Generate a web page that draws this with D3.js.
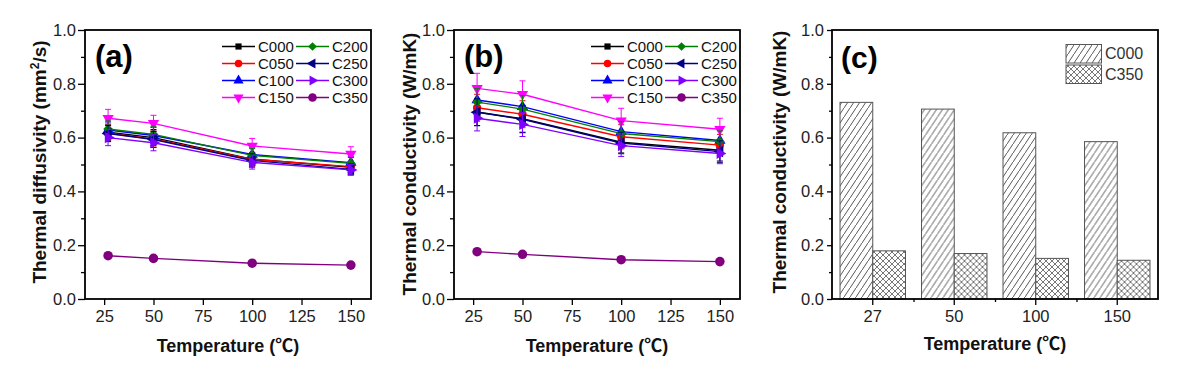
<!DOCTYPE html>
<html lang="en">
<head>
  <meta charset="UTF-8">
  <title>Thermal diffusivity and conductivity</title>
  <script src="https://d3js.org/d3.v7.min.js"></script>
  <style>
    body { margin: 0; background: #fff; }
    svg text { font-family: Arial, "Liberation Sans", "Noto Sans CJK SC", sans-serif; }
    .tick text { font-size: 16.5px; fill: #222; }
    .axis-title { font-weight: bold; fill: #111; }
    .legend text { font-size: 15px; fill: #111; }
    .cjk { font-family: "Noto Sans CJK SC", sans-serif; }
  </style>
</head>
<body>
  <svg width="1187" height="374"></svg>
  <script>
// temperatures (deg C) for the line panels
const temps = [27, 50, 100, 150];
const seriesNames = ["C000", "C050", "C100", "C150", "C200", "C250", "C300", "C350"];
const seriesColors = ["#000000", "#ff0000", "#0000ff", "#ff00ff", "#008000", "#000080", "#8000ff", "#800080"];

// panel (a): thermal diffusivity (mm2/s), one row per series
const diffusivity = [
  [0.620, 0.600, 0.520, 0.490],
  [0.616, 0.595, 0.519, 0.492],
  [0.628, 0.608, 0.537, 0.507],
  [0.672, 0.653, 0.569, 0.539],
  [0.632, 0.612, 0.534, 0.504],
  [0.615, 0.593, 0.515, 0.482],
  [0.600, 0.581, 0.508, 0.480],
  [0.161, 0.151, 0.133, 0.126]
];
const diffusivityErr = [
  [0.030, 0.030, 0.025, 0.020],
  [0.030, 0.030, 0.025, 0.020],
  [0.030, 0.030, 0.025, 0.022],
  [0.033, 0.030, 0.028, 0.027],
  [0.030, 0.030, 0.025, 0.022],
  [0.030, 0.030, 0.025, 0.020],
  [0.030, 0.030, 0.025, 0.020],
  [0.004, 0.004, 0.004, 0.004]
];

// panel (b): thermal conductivity (W/mK)
const conductivity = [
  [0.695, 0.670, 0.583, 0.553],
  [0.711, 0.687, 0.603, 0.572],
  [0.740, 0.715, 0.622, 0.589],
  [0.783, 0.761, 0.663, 0.631],
  [0.732, 0.706, 0.615, 0.585],
  [0.694, 0.668, 0.580, 0.548],
  [0.672, 0.649, 0.570, 0.541],
  [0.176, 0.166, 0.146, 0.139]
];
const conductivityErr = [
  [0.050, 0.050, 0.040, 0.040],
  [0.050, 0.050, 0.045, 0.040],
  [0.050, 0.050, 0.045, 0.040],
  [0.056, 0.050, 0.046, 0.041],
  [0.050, 0.050, 0.045, 0.040],
  [0.050, 0.050, 0.040, 0.040],
  [0.047, 0.045, 0.040, 0.038],
  [0.006, 0.006, 0.006, 0.006]
];

// panel (c): bars
const barCategories = ["27", "50", "100", "150"];
const barGroups = ["C000", "C350"];
const barC000 = [0.731, 0.706, 0.618, 0.585];
const barC350 = [0.179, 0.169, 0.151, 0.144];

const xTicks = [25, 50, 75, 100, 125, 150];
const yTicks = [0, 0.2, 0.4, 0.6, 0.8, 1.0];
const yMinorTicks = [0.1, 0.3, 0.5, 0.7, 0.9];

const svg = d3.select("svg");
const plotTop = 30, plotBottom = 299;

// marker shapes, in series order
function markerPath(i, size) {
  const sq = d3.symbol().type(d3.symbolSquare).size(size * 0.85)();
  const ci = d3.symbol().type(d3.symbolCircle).size(size)();
  const tr = d3.symbol().type(d3.symbolTriangle).size(size)();
  return [sq, ci, tr, tr, sq, tr, tr, d3.symbol().type(d3.symbolCircle).size(size * 1.3)()][i];
}
const markerRot = [0, 0, 0, 180, 45, -90, 90, 0];

function xTitle(g, cx, y) {
  const t = g.append("text").attr("class", "axis-title")
    .attr("x", cx).attr("y", y)
    .attr("text-anchor", "middle").attr("font-size", 18);
  t.append("tspan").text("Temperature (");
  t.append("tspan").attr("class", "cjk").text("℃");
  t.append("tspan").text(")");
}

function linePanel(left, right, values, errs, label, titleX, titleCenterY, titleParts) {
  const x = d3.scaleLinear().domain([15.3, 160.2]).range([left, right]);
  const y = d3.scaleLinear().domain([0, 1]).range([plotBottom, plotTop]);
  const g = svg.append("g");

  g.append("g")
    .attr("transform", `translate(0,${plotBottom})`)
    .call(d3.axisBottom(x).tickValues(xTicks).tickSize(6).tickPadding(5).tickSizeOuter(0))
    .call(a => a.select(".domain").remove());
  g.append("g")
    .attr("transform", `translate(${left},0)`)
    .call(d3.axisLeft(y).tickValues(yTicks).tickFormat(d3.format(".1f")).tickSize(7).tickPadding(2).tickSizeOuter(0))
    .call(a => a.select(".domain").remove());
  g.append("g")
    .attr("transform", `translate(${left},0)`)
    .call(d3.axisLeft(y).tickValues(yMinorTicks).tickFormat("").tickSize(4).tickSizeOuter(0))
    .call(a => a.select(".domain").remove());
  g.selectAll(".tick line").attr("stroke", "#000").attr("stroke-width", 1.3);

  g.append("rect")
    .attr("x", left).attr("y", plotTop)
    .attr("width", right - left).attr("height", plotBottom - plotTop)
    .attr("fill", "none").attr("stroke", "#000").attr("stroke-width", 1.8);

  const line = d3.line().x((d, j) => x(temps[j])).y(d => y(d));

  values.forEach((vals, i) => {
    const col = seriesColors[i];
    const s = g.append("g");
    s.append("path").attr("d", line(vals))
      .attr("fill", "none").attr("stroke", col).attr("stroke-width", 1.4);
    vals.forEach((v, j) => {
      const e = errs[i][j], cx = x(temps[j]);
      s.append("path")
        .attr("d", `M${cx},${y(v - e)}V${y(v + e)}M${cx - 3},${y(v - e)}h6M${cx - 3},${y(v + e)}h6`)
        .attr("stroke", col).attr("stroke-width", 1).attr("fill", "none");
    });
    s.selectAll(".pt").data(vals).enter().append("path")
      .attr("d", markerPath(i, 55))
      .attr("fill", col)
      .attr("transform", (d, j) => `translate(${x(temps[j])},${y(d)}) rotate(${markerRot[i]})`);
  });

  // legend
  const lg = g.append("g").attr("class", "legend");
  seriesNames.forEach((name, i) => {
    const x0 = left + 137 + Math.floor(i / 4) * 74;
    const y0 = 46.5 + (i % 4) * 17;
    lg.append("line").attr("x1", x0).attr("x2", x0 + 33).attr("y1", y0).attr("y2", y0)
      .attr("stroke", seriesColors[i]).attr("stroke-width", 1.4);
    lg.append("path").attr("d", markerPath(i, 45)).attr("fill", seriesColors[i])
      .attr("transform", `translate(${x0 + 16.5},${y0}) rotate(${markerRot[i]})`);
    lg.append("text").attr("x", x0 + 36).attr("y", y0).attr("dy", "0.36em").text(name);
  });

  g.append("text").attr("x", left + 10).attr("y", 67)
    .attr("font-size", 31).attr("font-weight", "bold").text(label);

  const yt = g.append("text").attr("class", "axis-title")
    .attr("transform", `translate(${titleX},${titleCenterY}) rotate(-90)`)
    .attr("text-anchor", "middle").attr("font-size", 19);
  titleParts.forEach(p => {
    const t = yt.append("tspan").text(p.t);
    if (p.sup) t.attr("font-size", 12).attr("dy", -7);
    if (p.after) t.attr("dy", 7);
  });

  xTitle(g, (left + right) / 2, 352);
}

linePanel(85, 371, diffusivity, diffusivityErr, "(a)", 45.5, 162,
  [{ t: "Thermal diffusivity (mm" }, { t: "2", sup: true }, { t: "/s)", after: true }]);
linePanel(454, 740, conductivity, conductivityErr, "(b)", 415.5, 164,
  [{ t: "Thermal conductivity (W/mK)" }]);

// panel (c)
(function () {
  const left = 832, right = 1158;
  const x = d3.scaleBand().domain(barCategories).range([left, right]).padding(0);
  const xs = d3.scaleBand().domain(barGroups).range([0, x.bandwidth()]).paddingInner(0).paddingOuter(0.245);
  const y = d3.scaleLinear().domain([0, 1]).range([plotBottom, plotTop]);
  const g = svg.append("g");

  const defs = svg.append("defs");
  const hatch = defs.append("pattern").attr("id", "hatch")
    .attr("patternUnits", "userSpaceOnUse").attr("width", 6).attr("height", 9);
  hatch.append("rect").attr("width", 6).attr("height", 9).attr("fill", "#fff");
  hatch.append("path").attr("d", "M-2,12L8,-3")
    .attr("stroke", "#444").attr("stroke-width", 0.9);
  const cross = defs.append("pattern").attr("id", "cross")
    .attr("patternUnits", "userSpaceOnUse").attr("width", 6).attr("height", 6);
  cross.append("rect").attr("width", 6).attr("height", 6).attr("fill", "#fff");
  cross.append("path").attr("d", "M-1,1l2,-2M0,6l6,-6M5,7l2,-2M-1,5l2,2M0,0l6,6M5,-1l2,2")
    .attr("stroke", "#555").attr("stroke-width", 0.8);

  const fills = { C000: "url(#hatch)", C350: "url(#cross)" };
  const rows = barCategories.map((c, i) => ({ cat: c, C000: barC000[i], C350: barC350[i] }));

  g.selectAll(".grp").data(rows).enter().append("g")
    .attr("transform", d => `translate(${x(d.cat)},0)`)
    .selectAll("rect").data(d => barGroups.map(k => ({ key: k, value: d[k] })))
    .enter().append("rect")
    .attr("x", d => xs(d.key)).attr("width", xs.bandwidth())
    .attr("y", d => y(d.value)).attr("height", d => y(0) - y(d.value))
    .attr("fill", d => fills[d.key]).attr("stroke", "#555").attr("stroke-width", 1);

  g.append("g")
    .attr("transform", `translate(0,${plotBottom})`)
    .call(d3.axisBottom(x).tickSize(6).tickPadding(5).tickSizeOuter(0))
    .call(a => a.select(".domain").remove())
    .call(a => a.selectAll("text").attr("font-size", 15).attr("fill", "#333"));
  g.append("g")
    .attr("transform", `translate(0,${plotBottom})`)
    .call(d3.axisBottom(d3.scaleLinear().domain([0, 4]).range([left, right]))
      .tickValues([1, 2, 3]).tickFormat("").tickSize(3).tickSizeOuter(0))
    .call(a => a.select(".domain").remove());
  g.append("g")
    .attr("transform", `translate(${left},0)`)
    .call(d3.axisLeft(y).tickValues(yTicks).tickFormat(d3.format(".1f")).tickSize(5).tickPadding(3).tickSizeOuter(0))
    .call(a => a.select(".domain").remove())
    .call(a => a.selectAll("text").attr("font-size", 15).attr("fill", "#333"));
  g.append("g")
    .attr("transform", `translate(${left},0)`)
    .call(d3.axisLeft(y).tickValues(yMinorTicks).tickFormat("").tickSize(3).tickSizeOuter(0))
    .call(a => a.select(".domain").remove());
  g.selectAll(".tick line").attr("stroke", "#000").attr("stroke-width", 1.3);

  g.append("rect")
    .attr("x", left).attr("y", plotTop)
    .attr("width", right - left).attr("height", plotBottom - plotTop)
    .attr("fill", "none").attr("stroke", "#000").attr("stroke-width", 1.8);

  // legend
  const lg = g.append("g");
  barGroups.forEach((k, i) => {
    lg.append("rect").attr("x", 1066).attr("y", 44.5 + i * 20.5).attr("width", 35.5).attr("height", 18.5)
      .attr("fill", fills[k]).attr("stroke", "#555").attr("stroke-width", 1);
    lg.append("text").attr("x", 1105).attr("y", 53.7 + i * 20.5).attr("dy", "0.36em")
      .attr("font-size", 16).attr("fill", "#333").text(k);
  });

  g.append("text").attr("x", 841).attr("y", 68)
    .attr("font-size", 30).attr("font-weight", "bold").text("(c)");

  g.append("text").attr("class", "axis-title")
    .attr("transform", `translate(786,162) rotate(-90)`)
    .attr("text-anchor", "middle").attr("font-size", 19)
    .text("Thermal conductivity (W/mK)");

  xTitle(g, (left + right) / 2, 350);
})();
  </script>
</body>
</html>
